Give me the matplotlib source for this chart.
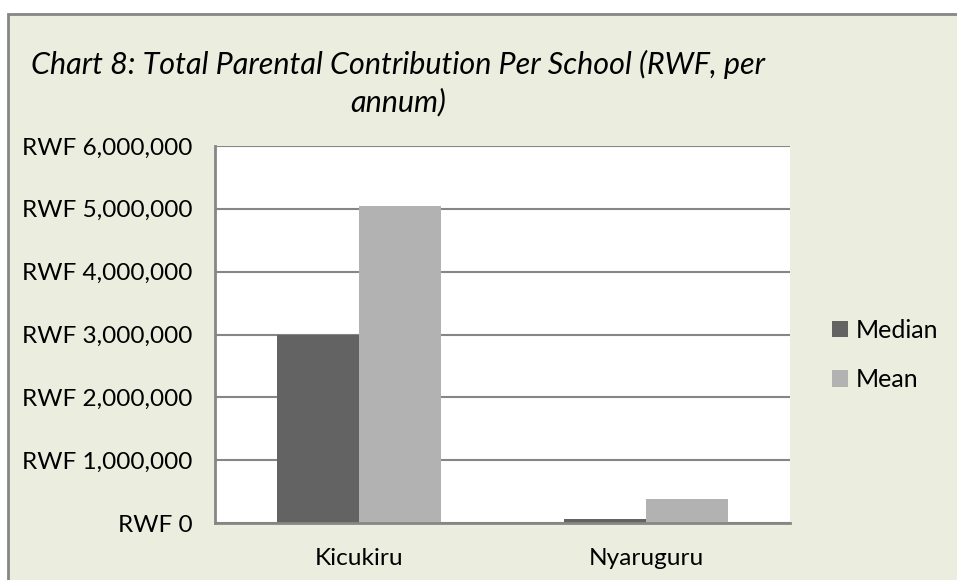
import matplotlib
matplotlib.use("Agg")
import matplotlib.pyplot as plt
import numpy as np
from matplotlib.patches import Rectangle
from matplotlib.ticker import FuncFormatter, MultipleLocator

categories = ["Kicukiru", "Nyaruguru"]
series_names = ["Median", "Mean"]
median_vals = [3000000, 65000]
mean_vals = [5050000, 380000]
title = "Chart 8: Total Parental Contribution Per School (RWF, per\nannum)"

colors = ["#636363", "#B2B2B2"]
bg = "#EBEEDF"
edge = "#868686"
FONT = ["Lato", "DejaVu Sans"]
plt.rcParams["font.family"] = FONT

W, H = 957, 580
fig = plt.figure(figsize=(W / 100, H / 100), dpi=100)
fig.patch.set_facecolor("white")
fig.patches.append(Rectangle((8 / W, -0.05), 1.1, 1.05 - 14 / H, transform=fig.transFigure,
                             facecolor=bg, edgecolor=edge, linewidth=2, zorder=-10))

ax = fig.add_axes([215 / W, (H - 523) / H, 575 / W, 377 / H])
ax.set_facecolor("white")
x = np.arange(len(categories))
bw = 0.285
ax.bar(x - bw / 2, median_vals, bw, color=colors[0], label=series_names[0], zorder=3)
ax.bar(x + bw / 2, mean_vals, bw, color=colors[1], label=series_names[1], zorder=3)
ax.set_xlim(-0.5, 1.5)
ax.set_ylim(0, 6000000)
ax.yaxis.set_major_locator(MultipleLocator(1000000))
ax.yaxis.set_major_formatter(FuncFormatter(lambda v, p: "RWF {:,.0f}".format(v)))
ax.grid(axis="y", color=edge, linewidth=1.5, zorder=1)
ax.set_xticks(x)
ax.set_xticklabels(categories)
ax.tick_params(axis="both", length=0, labelsize=17.6, colors="black")
ax.tick_params(axis="y", pad=16)
ax.tick_params(axis="x", pad=18)
for s in ["top", "right"]:
    ax.spines[s].set_visible(False)
for s in ["left", "bottom"]:
    ax.spines[s].set_color(edge)
    ax.spines[s].set_linewidth(2)
    ax.spines[s].set_zorder(4)

fig.text(398 / W, 1 - 83 / H, title, ha="center", va="center", fontsize=22, style="italic",
         linespacing=1.4)

ax.legend(loc="center left", bbox_to_anchor=(832 / W, 1 - 355 / H), bbox_transform=fig.transFigure,
          frameon=False, fontsize=18, handlelength=0.65, handleheight=0.65, handletextpad=0.3,
          labelspacing=1.05, borderpad=0, borderaxespad=0)

fig.savefig("out.png", dpi=100, facecolor=fig.get_facecolor())
